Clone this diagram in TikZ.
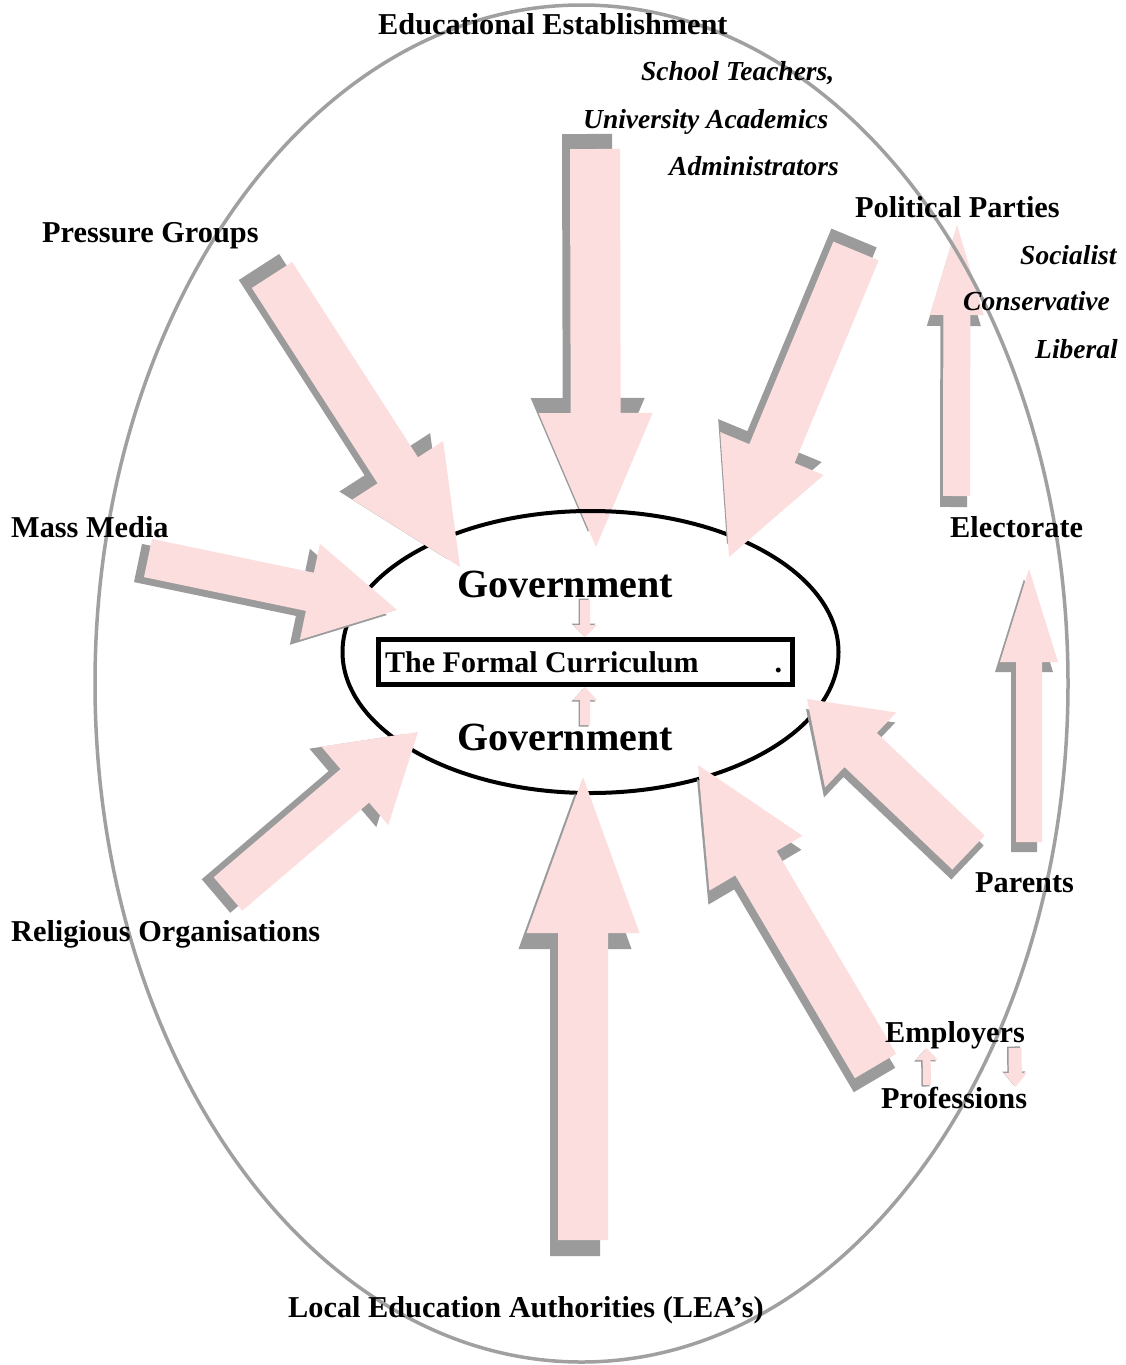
\documentclass[tikz,border=0pt]{standalone}
\usepackage{fontspec}
\setmainfont{Liberation Serif}
\usetikzlibrary{calc}
\definecolor{arrowpink}{RGB}{252,222,223}
\definecolor{shadowgray}{RGB}{155,155,155}
\definecolor{ringgray}{RGB}{160,160,160}
% #1 id, #2 tail, #3 tip, #4 shaft half width, #5 head half width, #6 head length, #7 #8 shadow offset
\newcommand{\blockarrow}[8]{%
  \coordinate (#1-tail) at #2;
  \coordinate (#1-tip) at #3;
  \coordinate (#1-n) at ($(#1-tip)!#6pt!(#1-tail)$);
  \coordinate (#1-t1) at ($(#1-tail)!#4pt!90:(#1-tip)$);
  \coordinate (#1-t2) at ($(#1-tail)!#4pt!-90:(#1-tip)$);
  \coordinate (#1-n1) at ($(#1-n)!#4pt!90:(#1-tip)$);
  \coordinate (#1-n2) at ($(#1-n)!#4pt!-90:(#1-tip)$);
  \coordinate (#1-h1) at ($(#1-n)!#5pt!90:(#1-tip)$);
  \coordinate (#1-h2) at ($(#1-n)!#5pt!-90:(#1-tip)$);
  \fill[shadowgray] ($(#1-t1)+(#7,#8)$) -- ($(#1-n1)+(#7,#8)$) -- ($(#1-h1)+(#7,#8)$) -- ($(#1-tip)+(#7,#8)$) -- ($(#1-h2)+(#7,#8)$) -- ($(#1-n2)+(#7,#8)$) -- ($(#1-t2)+(#7,#8)$) -- cycle;
  \fill[arrowpink] (#1-t1) -- (#1-n1) -- (#1-h1) -- (#1-tip) -- (#1-h2) -- (#1-n2) -- (#1-t2) -- cycle;
}
\tikzset{
  lab/.style={font=\fontsize{30.3}{36}\selectfont\bfseries, inner sep=0pt, anchor=base west},
  sublab/.style={font=\fontsize{27.5}{32}\selectfont\bfseries\itshape, inner sep=0pt, anchor=base west},
  govlab/.style={font=\fontsize{40}{48}\selectfont\bfseries, inner sep=0pt, anchor=base west},
}
\begin{document}
\begin{tikzpicture}[x=1pt, y=-1pt]
\useasboundingbox (0,0) rectangle (1125,1365);
\fill[white] (0,0) rectangle (1125,1365);

% Educational Establishment arrow (under the inner ring)
\blockarrow{aee}{(595,149)}{(596,547)}{25}{57}{134}{-8}{-15}

% inner ring
\draw[line width=4pt] (590.5,652) ellipse [x radius=248pt, y radius=141pt];

% big arrows
\blockarrow{apg}{(272,275)}{(460,567)}{24}{54}{115}{-13}{-8}
\blockarrow{app}{(856,251)}{(729,557)}{24.5}{56}{112}{-2}{-13}
\blockarrow{amm}{(148,558)}{(397,610)}{19.5}{49}{89}{-10}{5}
\blockarrow{aro}{(228,894)}{(418,732)}{22}{51.5}{83}{-12}{2}
\blockarrow{alea}{(583,1240)}{(583,777)}{25}{56.5}{156}{-8}{16}
\blockarrow{aemp}{(875.5,1066)}{(698,765)}{24}{54}{114}{-1}{14}
\blockarrow{apar}{(968.5,852.5)}{(807,699)}{23.5}{51.7}{74}{-1}{10}
\blockarrow{apel}{(1029,842)}{(1029,569)}{13}{29}{93}{-5}{10}
\blockarrow{aelpp}{(956.5,496)}{(957,225)}{13.5}{27}{90}{-3}{11}

% outer ring
\draw[ringgray, line width=3.5pt] (581.5,683.5) ellipse [x radius=486.5pt, y radius=678.5pt];

% small arrows
\blockarrow{sgd}{(585,600)}{(585,637)}{5}{12}{12}{-1.5}{-1.5}
\blockarrow{sgu}{(585,725)}{(585,687)}{5}{12}{13}{-1.5}{1.5}
\blockarrow{sepu}{(927,1085)}{(926.5,1048)}{4}{11}{12}{-1.5}{1.5}
\blockarrow{sepd}{(1015,1048)}{(1015.5,1087)}{6.5}{11.5}{14}{-1.5}{-1.5}

% formal curriculum box
\node[draw, line width=5pt, minimum width=414pt, minimum height=45pt, inner sep=0pt] (fc) at (585.5,662) {};
\node[lab, font=\fontsize{30}{36}\selectfont\bfseries] (fctext) at (385,672) {\makebox[397pt][l]{The Formal Curriculum\hfill.}};

% Government labels
\node[govlab] (gov1) at (457,597) {Government};
\node[govlab] (gov2) at (457,750) {Government};

% labels
\node[lab] (ee) at (378,34) {Educational Establishment};
\node[sublab] (st) at (641,80) {School Teachers,};
\node[sublab] (ua) at (583,128) {University Academics};
\node[sublab] (adm) at (669,175) {Administrators};
\node[lab] (pp) at (855,217) {Political Parties};
\node[sublab] (soc) at (1020,264) {Socialist};
\node[sublab] (con) at (963,310) {Conservative};
\node[sublab] (lib) at (1035,358) {Liberal};
\node[lab] (pg) at (42,242) {Pressure Groups};
\node[lab] (mm) at (11,537) {Mass Media};
\node[lab] (el) at (950,537) {Electorate};
\node[lab] (par) at (975,892) {Parents};
\node[lab] (ro) at (11,941) {Religious Organisations};
\node[lab] (emp) at (885,1042) {Employers};
\node[lab] (prof) at (881,1108) {Professions};
\node[lab] (lea) at (288,1317) {Local Education Authorities (LEA’s)};
\end{tikzpicture}
\end{document}
